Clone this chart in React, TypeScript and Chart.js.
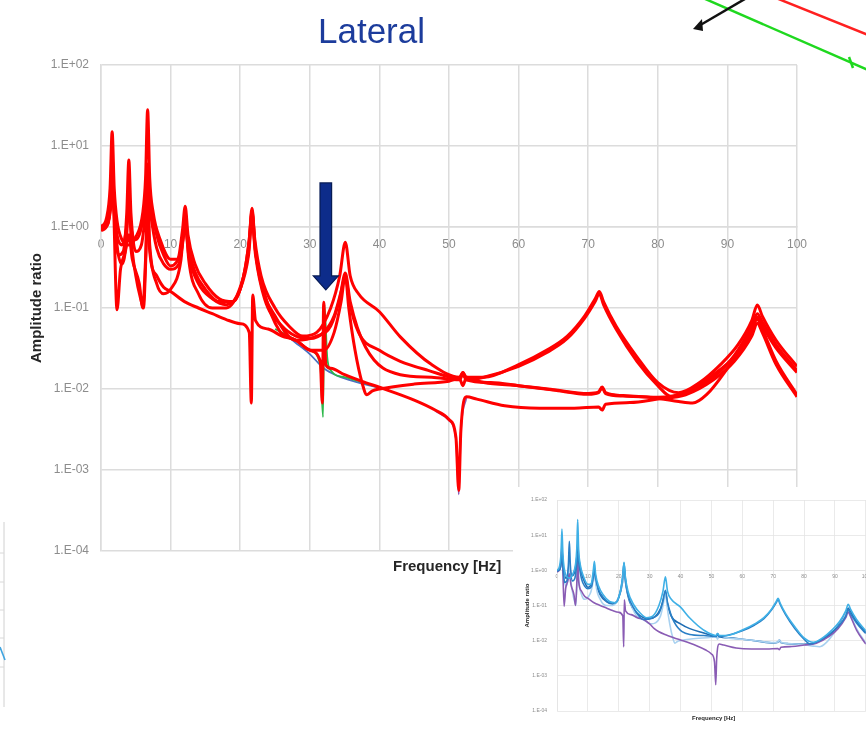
import React, { useEffect, useRef } from "react";
import { Chart, registerables } from "chart.js";

Chart.register(...registerables);

type Pt = [number, number];

// Frequency [Hz], amplitude ratio
const curveA: Pt[] = [
  [0, 1.0], [0.8, 1.3], [1.3, 3], [1.6, 15], [1.9, 3], [2.3, 1.2], [3, 0.7], [4, 0.6], [5, 0.75], [6, 1.5],
  [6.4, 4], [6.7, 28], [7, 4], [7.5, 1.5], [8.5, 0.7], [10, 0.4], [11, 0.4], [11.7, 0.9], [12.1, 1.8], [12.5, 0.8],
  [13.5, 0.35], [15, 0.2], [17, 0.13], [19, 0.12], [20.5, 0.25], [21.3, 0.7], [21.7, 1.7], [22.1, 0.7], [23, 0.25],
  [25, 0.1], [27, 0.06], [29, 0.045], [31, 0.05], [33, 0.1], [34.3, 0.25], [35.1, 0.65], [35.8, 0.25], [37, 0.15],
  [40, 0.09], [43, 0.044], [47.5, 0.02], [51.5, 0.014], [52, 0.016], [52.5, 0.014], [55, 0.014], [60, 0.02],
  [64, 0.03], [67, 0.045], [69.5, 0.08], [71, 0.13], [71.6, 0.16], [72.2, 0.12], [74, 0.06], [77, 0.025],
  [80, 0.012], [83, 0.009], [86, 0.012], [89, 0.02], [91.5, 0.035], [93.5, 0.07], [94.3, 0.109], [95, 0.08],
  [97, 0.04], [100, 0.019],
];

const curveB: Pt[] = [
  [0, 0.95], [1, 1.1], [1.5, 2], [1.7, 3], [2, 1.0], [2.5, 0.45], [3.2, 0.5], [3.7, 1.5], [4.0, 6.7], [4.3, 1.5],
  [5, 0.5], [5.8, 0.6], [6.4, 1.5], [6.7, 3], [7.1, 1.5], [8, 0.55], [9, 0.35], [10, 0.3], [11.2, 0.35], [11.8, 0.7],
  [12.1, 1.2], [12.5, 0.6], [13.5, 0.28], [15, 0.17], [17, 0.12], [19, 0.12], [20.5, 0.25], [21.3, 0.7], [21.7, 1.6],
  [22.1, 0.6], [23, 0.2], [25, 0.08], [28, 0.04], [31, 0.045], [33, 0.06], [34.3, 0.13], [35.1, 0.27], [35.8, 0.12],
  [38, 0.033], [43, 0.015], [47.5, 0.014], [51.5, 0.013], [52, 0.015], [52.5, 0.013], [55, 0.014], [60, 0.019],
  [64, 0.028], [67, 0.042], [69.5, 0.075], [71, 0.12], [71.6, 0.15], [72.2, 0.11], [74, 0.055], [77, 0.022],
  [80, 0.011], [82, 0.008], [85, 0.01], [88, 0.015], [91, 0.025], [93.5, 0.05], [94.3, 0.077], [95, 0.06],
  [97, 0.032], [100, 0.016],
];

const curveC: Pt[] = [
  [0, 0.9], [1, 1.1], [1.4, 2.5], [1.6, 5], [1.8, 2], [2.3, 0.095], [2.8, 0.3], [3.5, 0.5], [4, 0.8], [4.5, 0.4],
  [5.5, 0.2], [6, 0.1], [6.4, 0.4], [6.7, 2], [7, 0.5], [8, 0.25], [9, 0.18], [10, 0.16], [12, 0.12], [14, 0.1],
  [16, 0.085], [18, 0.072], [20, 0.064], [21.3, 0.05], [21.6, 0.0067], [21.8, 0.145], [22.2, 0.07], [24, 0.055],
  [26, 0.045], [28, 0.04], [30, 0.03], [31.5, 0.022], [31.8, 0.0067], [32, 0.118], [32.3, 0.02], [33, 0.018],
  [35, 0.015], [38, 0.012], [40, 0.0105], [45, 0.0073], [48, 0.0055], [50, 0.0042], [51, 0.0025], [51.4, 0.00056],
  [51.7, 0.003], [52.5, 0.008], [54, 0.0075], [58, 0.0062], [63, 0.0058], [68, 0.0058], [71.5, 0.006], [72, 0.0055],
  [72.5, 0.0065], [76, 0.0068], [80, 0.0075], [84, 0.0085], [88, 0.013], [91, 0.022], [93.5, 0.045], [94.3, 0.065],
  [95, 0.05], [97, 0.02], [100, 0.008],
];

const curveD: Pt[] = [
  [0, 1.0], [1, 1.2], [1.4, 2.5], [1.6, 8], [1.8, 2.5], [2.3, 0.6], [3, 0.35], [3.7, 0.8], [4, 3], [4.3, 0.8],
  [5, 0.25], [5.8, 0.12], [6.1, 0.1], [6.5, 0.6], [6.7, 2.3], [7, 0.6], [8, 0.2], [9, 0.15], [10, 0.17], [11.5, 0.4],
  [12.1, 1.5], [12.6, 0.4], [14, 0.15], [16, 0.1], [18, 0.1], [20, 0.18], [21.2, 0.5], [21.7, 1.5], [22.2, 0.5],
  [23.5, 0.15], [25.6, 0.053], [28, 0.04], [30.3, 0.03], [32, 0.03], [33.5, 0.05], [34.5, 0.12], [35.1, 0.25],
  [35.6, 0.1], [36.5, 0.03], [37.5, 0.012], [38.2, 0.0085], [39, 0.0095], [40, 0.01], [45, 0.0115], [50, 0.0125],
  [51.5, 0.0135], [52, 0.011], [52.5, 0.014], [55, 0.012], [60, 0.011], [65, 0.0098], [70, 0.0088], [71.5, 0.0092],
  [72, 0.0106], [72.5, 0.009], [75, 0.0083], [80, 0.0077], [83, 0.007], [85, 0.0067], [87, 0.0085], [90, 0.018],
  [92.5, 0.038], [94.3, 0.072], [95, 0.055], [97, 0.022], [100, 0.0085],
];

const curveE: Pt[] = [
  [0, 1.0], [1, 1.15], [1.4, 2], [1.6, 4], [1.8, 2], [2.3, 0.8], [3, 0.6], [3.8, 1.2], [4, 2], [4.3, 1], [5, 0.7],
  [6, 1.2], [6.5, 3], [6.7, 6], [7, 2.5], [8, 0.8], [9, 0.45], [10, 0.33], [11.5, 0.5], [12.1, 1.0], [12.6, 0.45],
  [14, 0.2], [16, 0.13], [18, 0.11], [20, 0.17], [21.2, 0.45], [21.7, 1.2], [22.2, 0.45], [23.5, 0.13], [26, 0.06],
  [28, 0.045], [30, 0.042], [32, 0.05], [33.5, 0.08], [34.5, 0.16], [35.1, 0.25], [35.7, 0.12], [37, 0.05],
  [40, 0.03], [43, 0.022], [47, 0.017], [51.5, 0.0135], [52, 0.016], [52.5, 0.013], [56, 0.012], [60, 0.011],
  [65, 0.0097], [70, 0.0086], [71.5, 0.009], [72, 0.0104], [72.5, 0.0088], [75, 0.0082], [80, 0.0079], [84, 0.009],
  [88, 0.014], [91, 0.026], [93.5, 0.06], [94.3, 0.085], [95, 0.068], [97, 0.035], [100, 0.017],
];

// thin traces peeking out from under the red ones
const greenTrace: Pt[] = [
  [25, 0.055], [28, 0.04], [30, 0.03], [31.5, 0.02], [31.9, 0.0045], [32.1, 0.11], [32.5, 0.025], [33, 0.017],
  [35, 0.014], [38, 0.0118], [40, 0.0104],
];
const blueTrace: Pt[] = [
  [26, 0.05], [28, 0.037], [30, 0.027], [32, 0.018], [34, 0.0145], [37, 0.012], [40, 0.0103],
];
const purpleTrace: Pt[] = [
  [48, 0.0054], [50, 0.0041], [51, 0.0024], [51.4, 0.0005], [51.7, 0.0029], [52.5, 0.0079],
];

const curves: Pt[][] = [curveA, curveB, curveC, curveD, curveE];
const insetColors = ["#3fb0e6", "#2a7fc6", "#8a5cb4", "#a8d1f0", "#1f6db3"];
// the inset case has no 32 Hz mode
const insetCutFrom = 31.6;
const insetCutTo = 32.4;

const yTickValues = [1e-4, 1e-3, 1e-2, 1e-1, 1, 10, 100];
const yTickLabels = ["1.E-04", "1.E-03", "1.E-02", "1.E-01", "1.E+00", "1.E+01", "1.E+02"];

const arrowFreq = 32.3;
const arrowTopValue = 3.5;
const arrowTipValue = 0.167;

const toXY = (pts: Pt[]) => pts.map(([x, y]) => ({ x, y }));

const arrowPlugin = {
  id: "downArrow",
  afterDatasetsDraw(chart: any) {
    const { ctx, scales } = chart;
    const cx = scales.x.getPixelForValue(arrowFreq);
    const top = scales.y.getPixelForValue(arrowTopValue);
    const tip = scales.y.getPixelForValue(arrowTipValue);
    const headH = 14;
    const headW = 12.5;
    const shaftW = 5.8;
    ctx.save();
    ctx.beginPath();
    ctx.moveTo(cx - shaftW, top);
    ctx.lineTo(cx + shaftW, top);
    ctx.lineTo(cx + shaftW, tip - headH);
    ctx.lineTo(cx + headW, tip - headH);
    ctx.lineTo(cx, tip);
    ctx.lineTo(cx - headW, tip - headH);
    ctx.lineTo(cx - shaftW, tip - headH);
    ctx.closePath();
    ctx.fillStyle = "#0d2c8a";
    ctx.fill();
    ctx.strokeStyle = "#081c55";
    ctx.lineWidth = 1.2;
    ctx.stroke();
    ctx.restore();
  },
};

function makeOptions(small: boolean) {
  const tickFont = { family: "'Liberation Sans', Arial, sans-serif", size: small ? 5 : 12 };
  const gridColor = small ? "#e4e4e4" : "#dcdcdc";
  return {
    responsive: false,
    animation: false as const,
    layout: small
      ? { padding: { left: 0, top: 9, right: 2, bottom: 19 } }
      : { padding: { left: 0, top: 65, right: 69, bottom: 179 } },
    plugins: { legend: { display: false }, tooltip: { enabled: false } },
    elements: { point: { radius: 0 }, line: { cubicInterpolationMode: "monotone" as const } },
    scales: {
      x: {
        type: "linear" as const,
        min: 0,
        max: 100,
        position: { y: 1 },
        ticks: {
          stepSize: 10,
          color: "#8c8c8c",
          font: tickFont,
          padding: small ? 3 : 10,
          maxRotation: 0,
        },
        grid: { color: gridColor, lineWidth: small ? 0.8 : 1.5, drawTicks: false },
        border: { color: gridColor, width: small ? 0.8 : 1.5 },
      },
      y: {
        type: "logarithmic" as const,
        min: 1e-4,
        max: 100,
        position: "left" as const,
        afterBuildTicks: (scale: any) => {
          scale.ticks = yTickValues.map((v) => ({ value: v }));
        },
        afterFit: (scale: any) => {
          scale.width = small ? 44 : 101;
        },
        ticks: {
          color: "#8c8c8c",
          font: tickFont,
          padding: small ? 10 : 12,
          callback: (value: number) => {
            const i = yTickValues.findIndex((v) => Math.abs(Math.log10(v) - Math.log10(value)) < 1e-6);
            return i >= 0 ? yTickLabels[i] : "";
          },
        },
        grid: { color: gridColor, lineWidth: small ? 0.8 : 1.5, drawTicks: false },
        border: { color: gridColor, width: small ? 0.8 : 1.5 },
        title: {
          display: true,
          text: "Amplitude ratio",
          color: "#262626",
          font: { family: "'Liberation Sans', Arial, sans-serif", size: small ? 6 : 15, weight: "bold" as const },
          padding: small ? { top: 11, bottom: 0 } : { top: 28, bottom: 0 },
        },
      },
    },
  };
}

function MainChart() {
  const ref = useRef<HTMLCanvasElement>(null);
  useEffect(() => {
    if (!ref.current) return;
    const datasets: any[] = curves.map((c, i) => ({
      label: "curve" + i,
      data: toXY(c),
      borderColor: "#ff0000",
      borderWidth: 3,
      fill: false,
      order: 1,
    }));
    datasets.push(
      { label: "green", data: toXY(greenTrace), borderColor: "#2db84a", borderWidth: 1.8, fill: false, order: 2 },
      { label: "blue", data: toXY(blueTrace), borderColor: "#4a6fc0", borderWidth: 1.8, fill: false, order: 2 },
      { label: "purple", data: toXY(purpleTrace), borderColor: "#8a5cb4", borderWidth: 1.8, fill: false, order: 2 }
    );
    const chart = new Chart(ref.current, {
      type: "line",
      data: { datasets },
      options: makeOptions(false) as any,
      plugins: [arrowPlugin],
    });
    return () => chart.destroy();
  }, []);
  return (
    <canvas
      ref={ref}
      width={866}
      height={730}
      style={{ position: "absolute", left: 0, top: 0, width: 866, height: 730 }}
    />
  );
}

function InsetChart() {
  const ref = useRef<HTMLCanvasElement>(null);
  useEffect(() => {
    if (!ref.current) return;
    const datasets: any[] = curves.map((c, i) => ({
      label: "inset" + i,
      data: toXY(c.filter(([x]) => x < insetCutFrom || x > insetCutTo)),
      borderColor: insetColors[i],
      borderWidth: 1.6,
      fill: false,
    }));
    const chart = new Chart(ref.current, {
      type: "line",
      data: { datasets },
      options: makeOptions(true) as any,
    });
    return () => chart.destroy();
  }, []);
  return (
    <canvas
      ref={ref}
      width={360}
      height={243}
      style={{ position: "absolute", left: 0, top: 0, width: 360, height: 243 }}
    />
  );
}

export default function App() {
  return (
    <div
      style={{
        position: "fixed",
        left: 0,
        top: 0,
        width: 866,
        height: 730,
        overflow: "hidden",
        background: "#ffffff",
        fontFamily: "'Liberation Sans', Arial, sans-serif",
      }}
    >
      <MainChart />
      <svg width={866} height={730} style={{ position: "absolute", left: 0, top: 0, pointerEvents: "none" }}>
        <line x1={776} y1={-2} x2={868} y2={35} stroke="#ff2020" strokeWidth={2.5} />
        <line x1={703} y1={-2} x2={868} y2={70} stroke="#1fd81f" strokeWidth={2.5} />
        <line x1={849} y1={57} x2={853} y2={68} stroke="#1fd81f" strokeWidth={2.5} />
        <line x1={822} y1={46} x2={829} y2={49} stroke="#ffffff" strokeWidth={3} />
        <line x1={697} y1={27} x2={750} y2={-4} stroke="#111111" strokeWidth={2.5} />
        <polygon points="693,29 702,19 703,31" fill="#111111" />
        <line x1={4} y1={522} x2={4} y2={707} stroke="#d0d0d0" strokeWidth={1} />
        <line x1={0} y1={553} x2={4} y2={553} stroke="#d8d8d8" strokeWidth={1} />
        <line x1={0} y1={582} x2={4} y2={582} stroke="#d8d8d8" strokeWidth={1} />
        <line x1={0} y1={610} x2={4} y2={610} stroke="#d8d8d8" strokeWidth={1} />
        <line x1={0} y1={638} x2={4} y2={638} stroke="#d8d8d8" strokeWidth={1} />
        <line x1={0} y1={667} x2={4} y2={667} stroke="#d8d8d8" strokeWidth={1} />
        <line x1={0} y1={647} x2={5} y2={660} stroke="#3fa4e0" strokeWidth={1.6} />
      </svg>
      <div
        style={{
          position: "absolute",
          left: 318,
          top: 13,
          fontSize: 35,
          lineHeight: "35px",
          color: "#1c3c9c",
          whiteSpace: "nowrap",
        }}
      >
        Lateral
      </div>
      <div
        style={{
          position: "absolute",
          left: 393,
          top: 558,
          fontSize: 15,
          lineHeight: "15px",
          fontWeight: "bold",
          color: "#262626",
          whiteSpace: "nowrap",
        }}
      >
        Frequency [Hz]
      </div>
      <div
        style={{
          position: "absolute",
          left: 513,
          top: 487,
          width: 353,
          height: 243,
          background: "#ffffff",
          overflow: "hidden",
        }}
      >
        <InsetChart />
        <div
          style={{
            position: "absolute",
            left: 179,
            top: 228,
            fontSize: 6,
            lineHeight: "6px",
            fontWeight: "bold",
            color: "#262626",
            whiteSpace: "nowrap",
          }}
        >
          Frequency [Hz]
        </div>
      </div>
    </div>
  );
}
